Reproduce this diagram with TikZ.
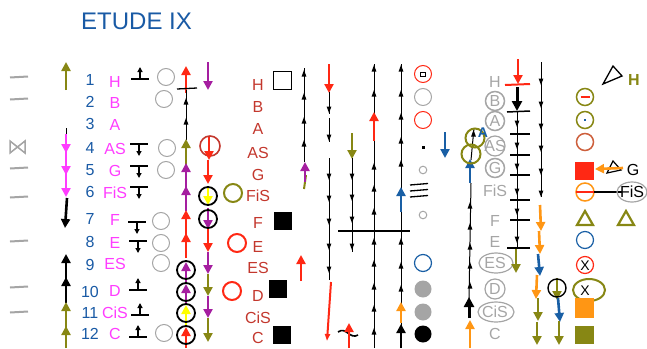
\documentclass[tikz,border=0pt]{standalone}
\usepackage{fontspec}
\setmainfont{Liberation Sans}
\usetikzlibrary{arrows.meta}
\definecolor{numblue}{RGB}{25,90,165}
\definecolor{mag}{RGB}{255,60,255}
\definecolor{nred}{RGB}{200,50,40}
\definecolor{ol}{RGB}{135,135,20}
\definecolor{pur}{RGB}{165,30,160}
\definecolor{rd}{RGB}{255,40,20}
\definecolor{org}{RGB}{255,150,20}
\definecolor{bl}{RGB}{25,95,165}
\definecolor{gr}{RGB}{165,165,165}
\definecolor{yel}{RGB}{255,255,0}
\definecolor{sien}{RGB}{205,95,60}
\definecolor{dred}{RGB}{195,55,45}
\newcommand\tu[2]{\fill (#1-2.4,#2+6.5) -- (#1,#2) -- (#1+2.4,#2+6.5) -- cycle;}
\newcommand\td[2]{\fill (#1-2.4,#2-6.5) -- (#1,#2) -- (#1+2.4,#2-6.5) -- cycle;}
\newcommand\upbar[2]{\draw[line width=1.3pt] (#1-9,#2) -- (#1+9,#2); \draw[sar] (#1,#2) -- (#1,#2-12);}
\newcommand\dnbar[2]{\draw[line width=1.3pt] (#1-9,#2) -- (#1+9,#2); \draw[sar] (#1,#2) -- (#1,#2+12);}
\begin{document}
\begin{tikzpicture}[x=1pt,y=-1pt,
  ar/.style={line width=2.6pt,-{Triangle[length=9pt,width=9pt]}},
  sar/.style={line width=1.2pt,-{Triangle[length=5pt,width=5pt]}},
  thinl/.style={line width=1pt},
  txt/.style={font=\fontsize{16}{16}\selectfont, inner sep=0pt},
  num/.style={txt, text=numblue},
  nmag/.style={txt, text=mag},
  nred/.style={txt, text=dred},
  ngr/.style={txt, text=gr},
  gcirc/.style={draw=gr, line width=1pt},
  bcirc/.style={draw=black, line width=1.8pt},
  gdash/.style={draw=gr, line width=2pt}]
\path[use as bounding box] (0,0) rectangle (647,348);
% title
\node[anchor=west, font=\fontsize{24}{24}\selectfont, text=numblue, inner sep=0pt] (title) at (81,21) {ETUDE IX};
% left dashes
\foreach \y in {77,99,168,197,241,287,312} \draw[gdash] (10,\y+0.5) -- (28,\y-0.5);
\draw[gr, line width=1.5pt] (10,141) -- (25,153) -- (25,141) -- (10,153) -- cycle;
% left arrows
\draw[ar,ol] (66,90) -- (66,62);
\draw[thinl] (66,128) -- (66,138);
\draw[ar,mag] (66,134) -- (66,153);
\draw[ar,mag] (66,151) -- (66,175);
\draw[ar,mag] (66,173) -- (66,197);
\draw[ar,black] (67,198) -- (65,228);
\draw[ar,black] (66,282) -- (66,254);
\draw[ar,black] (66,303) -- (66,277);
\draw[ar,ol] (66,330) -- (66,302);
\draw[ar,ol] (66,348) -- (66,326);
% numbers
\foreach \n/\y in {1/80,2/102,3/124,4/148,5/170,6/192,7/219,8/242,9/265,10/292,11/313,12/334}
  \node[num] (n\n) at (90,\y) {\n};
% magenta notes
\foreach \t/\y/\k in {H/82/a,B/103/b,A/125/c,AS/149/d,G/171/e,FiS/193/f,F/220/g,E/243/h,ES/264/i,D/291/j,CiS/313/k,C/334/l}
  \node[nmag] (m\k) at (115,\y) {\t};
% bar symbols
\upbar{140}{79}\upbar{138}{290}\upbar{140}{315}\upbar{138}{337}
\dnbar{139}{144}\dnbar{139}{166}\dnbar{139}{187}\dnbar{137}{222}\dnbar{138}{241}
% gray circles
\foreach \x/\y in {166/77,164/99,167/148,166/170,161/221,161/243,161/263,164/333}
  \draw[gcirc] (\x,\y) circle (8.5);
% column 1
\draw[ar,rd] (186,93) -- (186,66);
\draw[line width=1.3pt] (177,89) -- (197,88);
\draw[thinl] (186,140) -- (186,90);
\tu{186}{98}\tu{186}{118}
\draw[ar,ol] (186,165) -- (186,139);
\draw[ar,pur] (186,188) -- (186,163);
\draw[ar,pur] (186,211) -- (186,186);
\draw[ar,rd] (186,235) -- (186,210);
\draw[ar,rd] (186,258) -- (186,233);
\draw[ar,pur] (186,283) -- (186,262);
\draw[ar,pur] (186,304) -- (186,284);
\draw[ar,yel] (186,325) -- (186,305);
\draw[ar,rd] (186,348) -- (186,327);
\foreach \y in {270,292,313,335} \draw[bcirc] (186,\y) circle (9);
% column 2
\draw[ar,pur] (208,62) -- (208,90);
\draw[dred, line width=1.6pt] (210,146) circle (10);
\draw[ar,rd] (209,137) -- (209,160);
\draw[ar,rd] (208,160) -- (208,184);
\draw[ar,yel] (208,186) -- (208,205);
\draw[ar,pur] (208,208) -- (208,229);
\draw[ar,rd] (208,229) -- (208,252);
\draw[ar,pur] (208,252) -- (208,274);
\draw[ar,ol] (208,274) -- (208,296);
\draw[ar,pur] (208,296) -- (208,318);
\draw[ar,ol] (208,318) -- (208,342);
\draw[bcirc] (208,196) circle (9);
\draw[bcirc] (208,219) circle (9);
\draw[ol, line width=2pt] (233,193) circle (9);
\draw[rd, line width=2pt] (237,243) circle (9);
\draw[rd, line width=2pt] (232,291) circle (9);
% second note column
\foreach \t/\y/\k in {H/85/a,B/107/b,A/129/c,AS/153/d,G/175/e,FiS/196/f,F/223/g,E/247/h,ES/268/i,D/296/j,CiS/318/k,C/338/l}
  \node[nred] (r\k) at (258,\y) {\t};
\draw[line width=1pt] (273,71) rectangle (291,89);
\fill (274,212) rectangle (292,230);
\fill (269,280) rectangle (287,298);
\fill (273,326) rectangle (291,344);
\draw[ar,rd] (301,281) -- (301,255);
% col A
\draw[thinl] (304,162) -- (304,68);
\foreach \y in {70,93,117,140} {\tu{304}{\y}}
\draw[ol, line width=2pt] (304,189) -- (306,175);
\draw[ar,pur] (305,182) -- (305,162);
% col B
\draw[ar,rd] (329,64) -- (329,93);
\draw[thinl] (329,92) -- (329,114);
\draw[thinl] (329,118) -- (329,142);
\draw[thinl] (329,158) -- (329,280);
\foreach \y in {113,141,180,202,225,250,273} {\td{329}{\y}}
\draw[rd, line width=2pt, -{Triangle[length=7pt,width=5pt]}] (331,282) -- (327,341);
% col C
\draw[ar,ol] (352,133) -- (352,159);
\draw[thinl] (352,158) -- (352,252);
\foreach \y in {180,201,223,250} {\td{352}{\y}}
% horizontal line
\draw[line width=1.8pt] (338,231) -- (410,231);
% col D
\draw[thinl] (374,348) -- (374,64);
\foreach \y in {65,90,163,185,208,238,260,283,305,328} {\tu{374}{\y}}
\draw[ar,rd] (374,141) -- (374,112);
% col E
\draw[thinl] (401,348) -- (401,64);
\foreach \y in {65,90,113,137,160,238,262,285} {\tu{401}{\y}}
\draw[ar,bl] (401,212) -- (401,187);
\draw[ar,org] (401,323) -- (401,302);
\draw[ar,black] (401,348) -- (401,324);
% tilde + red
\draw[line width=1.6pt] (338,332) .. controls (346,326) and (350,340) .. (358,335);
\draw[ar,rd] (349,348) -- (349,323);
% symbol column 423
\draw[rd, line width=1pt] (423,74) circle (8.5);
\draw[line width=1pt] (420.5,72.5) rectangle (425.5,76);
\draw[gcirc] (423,97) circle (8.5);
\draw[rd, line width=1pt] (423,120) circle (8.5);
\fill (421.5,145.5) rectangle (424.5,148.5);
\draw[gcirc] (423,170) circle (3.8);
\draw[line width=1.3pt] (410,185) -- (428,183.5);
\draw[line width=1.3pt] (410,191) -- (428,189.5);
\draw[line width=1.3pt] (410,197) -- (428,195.5);
\draw[gcirc] (423,215) circle (3.8);
\draw[bl, line width=1.2pt] (423,263) circle (8.5);
\fill[gr] (423,289) circle (8.5);
\fill[gr] (423,312) circle (8.5);
\fill[black] (423,334) circle (8.5);
% blue down
\draw[ar,bl] (445,132) -- (445,158);
% col F
\draw[thinl] (469,300) -- (471,183);
\foreach \y in {202,223,243,262,282} {\tu{470}{\y}}
\draw[thinl] (471,160) -- (474,128);
\tu{473.5}{130}
\draw[ar,bl] (470,183) -- (470,159);
\draw[ol, line width=2pt] (475,138) circle (9.5);
\draw[ol, line width=2pt] (471,154) circle (9.5);
\draw[line width=3pt,-{Triangle[length=10pt,width=10pt]}] (469,318) -- (469,297);
\draw[ar,org] (470,348) -- (470,320);
% gray note column
\foreach \t/\y/\k in {H/82/a,B/101/b,A/121/c,AS/146/d,G/168/e,FiS/191/f,F/221/g,E/242/h,ES/263/i,D/289/j,CiS/312/k,C/334/l}
  \node[ngr] (g\k) at (495,\y) {\t};
\foreach \y in {101,121,168} \draw[gr, line width=1.5pt] (495,\y) circle (9.5);
\draw[gr, line width=1.2pt] (495,146) circle (10);
\draw[gr, line width=1.2pt] (495,289) circle (10);
\draw[gr, line width=1.2pt] (496,263) ellipse (17 and 10);
\draw[gr, line width=1.2pt] (496,312) ellipse (18 and 10);
\node[txt, font=\fontsize{14}{14}\selectfont\bfseries, text=bl] (Ablue) at (483,133) {A};
% col G
\draw[ar,rd] (518,59) -- (518,84);
\draw[rd, line width=2pt] (505,85) -- (530,84);
\draw[line width=3pt,-{Triangle[length=10pt,width=10pt]}] (517,87) -- (517,111);
\draw[line width=1.5pt] (507,112) -- (530,111);
\draw[thinl] (517,112) -- (517,248);
\foreach \y in {134,155,175,200,220} \draw[line width=1.2pt] (510,\y) -- (530,\y);
\draw[line width=1.5pt] (507,248) -- (530,248);
\foreach \y in {127,149,170,195,215,243} {\td{517}{\y}}
\draw[ar,ol] (516,249) -- (516,273);
% col H
\draw[thinl] (541,62) -- (541,197);
\foreach \y in {85,108,130,152,175,197} {\td{541}{\y}}
\draw[ar,org] (540,205) -- (541,231);
\draw[ar,org] (539,231) -- (540,254);
\draw[ar,bl] (538,254) -- (540,276);
\draw[ar,org] (537,275) -- (536,299);
\draw[ar,ol] (538,298) -- (538,321);
\draw[ar,ol] (537,322) -- (537,345);
% col I
\draw[ar,ol] (557,278) -- (557,300);
\draw[bcirc, line width=1.4pt] (557,288) circle (9);
\draw[ar,bl] (558,298) -- (560,322);
\draw[ar,ol] (559,321) -- (559,345);
% symbols column 585
\draw[ol, line width=1.5pt] (585,97) circle (8.5);
\draw[rd, line width=1.5pt] (580.5,97) -- (589.5,97);
\draw[ol, line width=1.5pt] (585,120) circle (8.5);
\fill[bl] (583.7,118.7) rectangle (586.3,121.3);
\draw[sien, line width=1.5pt] (585,142) circle (8.5);
\fill[rd] (575,162) rectangle (594,180);
\draw[org, line width=1.5pt] (585,192) circle (9);
\draw[rd, line width=1.5pt] (576,192) -- (594,192);
\draw[line width=1.8pt] (594,192) -- (622,192);
\draw[ol, line width=2.2pt] (577,225) -- (593,225) -- (585,211) -- cycle;
\draw[bl, line width=1.2pt] (585,240) circle (8.5);
\draw[rd, line width=1.2pt] (585,265) circle (8.5);
\node[txt, font=\fontsize{14}{14}\selectfont] (x1) at (585,265.5) {X};
\draw[ol, line width=2pt] (589,290) ellipse (16 and 11);
\node[txt, font=\fontsize{14}{14}\selectfont] (x2) at (585,290.5) {X};
\fill[org] (575,298) rectangle (594,318);
\fill[ol] (575,326) rectangle (594,344);
% right side
\draw[line width=1.3pt] (603,84) -- (613,66) -- (622,76) -- cycle;
\node[txt, font=\fontsize{16}{16}\selectfont\bfseries, text=ol] (Hol) at (634,80) {H};
\draw[line width=1.2pt] (607,173) -- (613,161) -- (621,170) -- cycle;
\draw[ar,org] (623,168) -- (595,169);
\node[txt] (Gr) at (633,170) {G};
\draw[gr, line width=1.2pt] (632,192) ellipse (15 and 10);
\node[txt] (FiSr) at (632,192) {FiS};
\draw[ol, line width=2.2pt] (618,225) -- (634,225) -- (626,211) -- cycle;
\end{tikzpicture}
\end{document}
